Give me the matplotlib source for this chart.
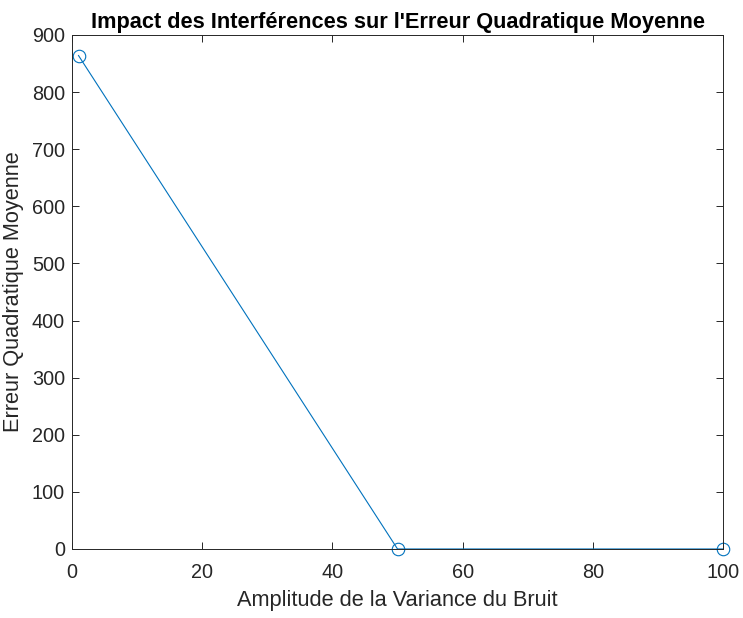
import matplotlib.pyplot as plt

# valeurs
variance_bruit = [1, 50, 100]
erreur_qm = [864, 0, 0]
x_ticks = [0, 20, 40, 60, 80, 100]
y_ticks = [0, 100, 200, 300, 400, 500, 600, 700, 800, 900]

plt.rcParams['font.family'] = ['Liberation Sans', 'DejaVu Sans']

fig = plt.figure(figsize=(7.43, 6.18), dpi=100)
ax = fig.add_axes([0.0969, 0.1117, 0.8762, 0.8317])

ax.plot(variance_bruit, erreur_qm, color='#0072BD', linewidth=0.8,
        marker='o', markersize=9, markerfacecolor='none', markeredgewidth=0.8,
        clip_on=False)

ax.set_xlim(0, 100)
ax.set_ylim(0, 900)
ax.set_xticks(x_ticks)
ax.set_yticks(y_ticks)
ax.tick_params(direction='in', top=True, right=True, length=5, width=0.7,
               labelsize=14.3, colors='#262626', pad=5)
ax.tick_params(axis='x', pad=10)
for s in ax.spines.values():
    s.set_linewidth(0.7)
    s.set_color('#262626')

ax.set_xlabel('Amplitude de la Variance du Bruit', fontsize=15.7, color='#262626',
              labelpad=6)
ax.set_ylabel('Erreur Quadratique Moyenne', fontsize=15.7, color='#262626',
              labelpad=6)
ax.set_title("Impact des Interférences sur l'Erreur Quadratique Moyenne",
             fontsize=15.7, fontweight='bold', pad=5)

fig.savefig('out.png', dpi=100)
